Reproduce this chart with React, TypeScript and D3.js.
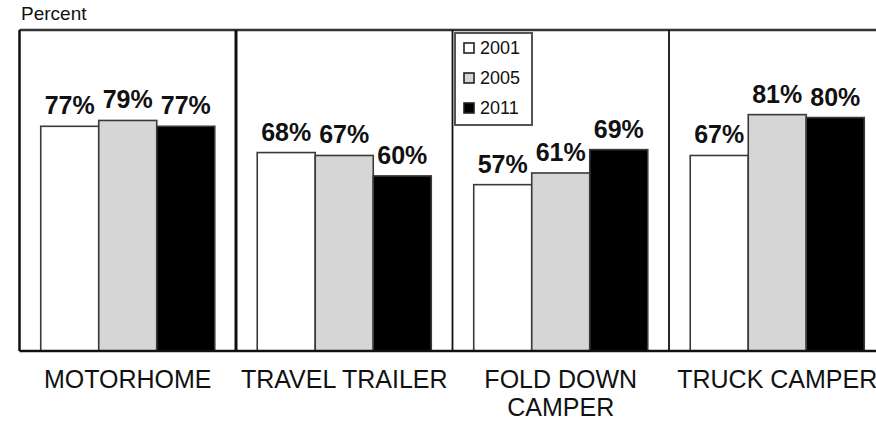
import React from "react";
import * as d3 from "d3";

const categories = ["MOTORHOME", "TRAVEL TRAILER", "FOLD DOWN|CAMPER", "TRUCK CAMPER"];
const seriesNames = ["2001", "2005", "2011"];
const values2001 = [77, 68, 57, 67];
const values2005 = [79, 67, 61, 81];
const values2011 = [77, 60, 69, 80];
const seriesValues = [values2001, values2005, values2011];
const fills = ["#ffffff", "#d6d6d6", "#000000"];

const W = 876;
const H = 424;
const FONT = "'Liberation Sans', Arial, Helvetica, sans-serif";

export default function App() {
  const left = 19.5;
  const top = 30;
  const bottom = 351;
  const x0 = d3.scaleBand<string>().domain(categories).range([left, 885.5]).padding(0);
  const x1 = d3
    .scaleBand<string>()
    .domain(seriesNames)
    .range([0, x0.bandwidth()])
    .paddingInner(0)
    .paddingOuter(0.366);
  const y = d3.scaleLinear().domain([0, 110]).range([bottom, top]);

  return (
    <svg
      width={W}
      height={H}
      style={{ position: "absolute", left: 0, top: 0, background: "#fff" }}
      fontFamily={FONT}
    >
      <rect x={0} y={0} width={W} height={H} fill="#fff" />
      <text x={21} y={20} fontSize={19} fill="#111">
        Percent
      </text>
      {/* bars */}
      {categories.map((c, ci) => (
        <g key={c} transform={`translate(${x0(c)},0)`}>
          {seriesNames.map((s, si) => {
            const v = seriesValues[si][ci];
            const bx = x1(s)!;
            return (
              <g key={s}>
                <rect
                  x={bx}
                  y={y(v)}
                  width={x1.bandwidth()}
                  height={bottom - y(v)}
                  fill={fills[si]}
                  stroke="#3a3a3a"
                  strokeWidth={1.6}
                />
                <text
                  x={bx + x1.bandwidth() / 2}
                  y={y(v) - 12}
                  textAnchor="middle"
                  fontSize={25}
                  fontWeight="bold"
                  fill="#111"
                >
                  {v}%
                </text>
              </g>
            );
          })}
          {c.split("|").map((line, li) => (
            <text
              key={li}
              x={x0.bandwidth() / 2}
              y={388 + li * 28}
              textAnchor="middle"
              fontSize={25}
              fill="#111"
            >
              {line}
            </text>
          ))}
        </g>
      ))}
      {/* frame */}
      <line x1={left} x2={W} y1={top} y2={top} stroke="#333" strokeWidth={2.5} />
      <line x1={left} x2={W} y1={bottom} y2={bottom} stroke="#111" strokeWidth={2.5} />
      <line x1={left} x2={left} y1={top} y2={bottom} stroke="#111" strokeWidth={2.5} />
      {categories.slice(1).map((c, i) => (
        <line
          key={c}
          x1={x0(c)!}
          x2={x0(c)!}
          y1={top}
          y2={bottom}
          stroke="#111"
          strokeWidth={i === 0 ? 3 : 1.8}
        />
      ))}
      {/* legend */}
      <g>
        <rect x={455} y={33} width={77} height={92} fill="#fff" stroke="#555" strokeWidth={2} />
        {seriesNames.map((s, si) => (
          <g key={s} transform={`translate(464,${48 + si * 30})`}>
            <rect x={0} y={-5} width={10} height={10} fill={fills[si]} stroke="#222" strokeWidth={1.6} />
            <text x={16} y={0} dy="0.35em" fontSize={18} fill="#111">
              {s}
            </text>
          </g>
        ))}
      </g>
    </svg>
  );
}
